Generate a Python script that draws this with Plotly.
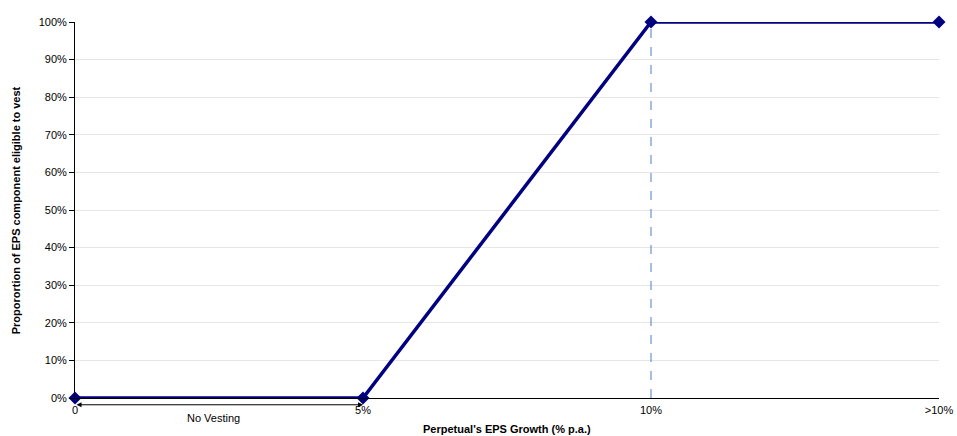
import plotly.graph_objects as go

categories = ["0", "5%", "10%", ">10%"]
x_pos = [0, 1, 2, 3]
vesting = [0, 0, 100, 100]
y_ticks = [0, 10, 20, 30, 40, 50, 60, 70, 80, 90, 100]

fig = go.Figure()
# dashed vertical line at 10%
fig.add_trace(go.Scatter(
    x=[x_pos[2], x_pos[2]], y=[0, 100], mode="lines",
    line=dict(color="#4a7ebb", width=1, dash="dash"),
    showlegend=False,
))
fig.add_trace(go.Scatter(
    x=x_pos, y=vesting, mode="lines+markers",
    line=dict(color="#000080", width=3.5),
    marker=dict(symbol="diamond", size=10, color="#000080"),
    cliponaxis=False, showlegend=False,
))

# double-headed arrow "No Vesting"
fig.add_annotation(x=x_pos[1], y=-0.018, ax=x_pos[0], ay=-0.018,
                   xref="x", yref="y domain", axref="x", ayref="y domain",
                   showarrow=True, arrowhead=2, arrowside="end+start",
                   arrowsize=1, arrowwidth=1, arrowcolor="black", text="")
fig.add_annotation(x=(x_pos[0] + x_pos[1]) / 2 - 0.02, y=-0.053, xref="x", yref="y domain",
                   yanchor="middle", text="No Vesting", showarrow=False,
                   font=dict(size=11, color="black"))
# axis titles
fig.add_annotation(x=0.5, y=-0.0815, xref="paper", yref="paper", yanchor="middle",
                   text="<b>Perpetual's EPS Growth (% p.a.)</b>", showarrow=False,
                   font=dict(size=11, color="black"))
fig.add_annotation(x=-0.068, y=0.5, xref="paper", yref="paper", textangle=-90,
                   xanchor="center", yanchor="middle",
                   text="<b>Proporortion of EPS component eligible to vest</b>",
                   showarrow=False, font=dict(size=11, color="black"))

fig.update_layout(
    width=957, height=436,
    margin=dict(l=75, r=18, t=22, b=38),
    plot_bgcolor="white", paper_bgcolor="white",
    font=dict(family="Liberation Sans, Arial, sans-serif", size=11, color="black"),
    xaxis=dict(
        range=[0, 3], tickvals=x_pos, ticktext=categories,
        showgrid=False, zeroline=False, showline=True, linecolor="black",
        linewidth=1, ticks="", automargin=False, ticklabelstandoff=2,
    ),
    yaxis=dict(
        range=[0, 100], tickvals=y_ticks, ticktext=[f"{v}%" for v in y_ticks],
        showgrid=True, gridcolor="#e6e6e6", zeroline=False,
        showline=True, linecolor="black", linewidth=1,
        ticks="outside", ticklen=5, tickcolor="black", automargin=False,
    ),
)

fig.write_html("out.html")
